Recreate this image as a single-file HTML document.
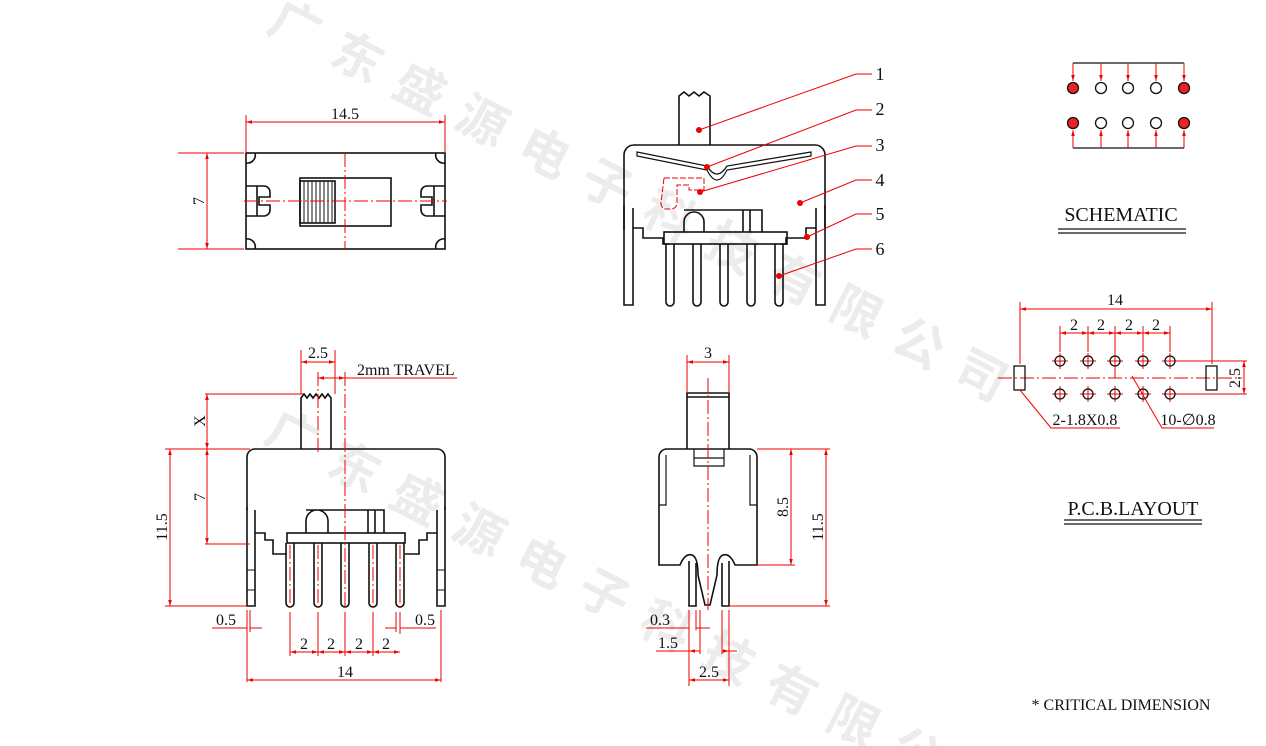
<!DOCTYPE html>
<html><head><meta charset="utf-8"><style>
html,body{margin:0;padding:0;background:#fff;width:1266px;height:746px;overflow:hidden}
svg{display:block;overflow:hidden}
text{font-family:"Liberation Serif",serif;font-size:16px;fill:#111}
.wm{font-family:"Liberation Sans","Noto Sans CJK SC",sans-serif;font-size:50px;fill:#ececec;font-weight:bold}
.k{stroke:#111;stroke-width:1.6;fill:none}
.r{stroke:#e00;stroke-width:1;fill:none}
.c{stroke:#e00;stroke-width:1;fill:none;stroke-dasharray:14 3 2 3}
</style></head><body>
<svg width="1266" height="746" viewBox="0 0 1266 746" xmlns="http://www.w3.org/2000/svg">
<defs>
<marker id="a" viewBox="0 0 10 10" refX="10" refY="5" markerWidth="8" markerHeight="6" orient="auto-start-reverse"><path d="M0,2 L10,5 L0,8 z" fill="#e00"/></marker>
</defs>
<!-- watermark -->
<text class="wm" transform="translate(265,30) rotate(27)" letter-spacing="20">广东盛源电子科技有限公司</text>
<text class="wm" transform="translate(262,440) rotate(27)" letter-spacing="20">广东盛源电子科技有限公司</text>

<!-- TOP LEFT VIEW -->
<rect class="k" x="246" y="153" width="199" height="96"/>
<path class="k" d="M246,163 a8,8 0 0 0 9,-10 M445,163 a8,8 0 0 1 -9,-10 M246,239 a8,8 0 0 1 9,10 M445,239 a8,8 0 0 0 -9,10"/>
<rect class="k" x="300" y="178" width="91" height="48"/>
<rect class="k" x="300" y="181" width="35" height="42"/>
<path class="k" style="stroke-width:1" d="M304,181v42M308,181v42M312,181v42M316,181v42M320,181v42M324,181v42M328,181v42M332,181v42"/>
<path class="k" d="M246,186h18a6,6 0 0 1 6,6v5h-11v8h11v5a6,6 0 0 1 -6,6h-18 M257,186v30"/>
<path class="k" d="M445,186h-18a6,6 0 0 0 -6,6v5h11v8h-11v5a6,6 0 0 0 6,6h18 M434,186v30"/>
<line class="c" x1="345" y1="153" x2="345" y2="249"/>
<line class="c" x1="244" y1="201" x2="447" y2="201"/>
<path class="r" d="M246,115v38M445,115v38M178,153h66M178,249h66"/>
<line class="r" x1="246" y1="122" x2="445" y2="122" marker-start="url(#a)" marker-end="url(#a)"/>
<line class="r" x1="207" y1="153" x2="207" y2="249" marker-start="url(#a)" marker-end="url(#a)"/>
<text x="345" y="119" text-anchor="middle">14.5</text>
<text transform="translate(204,201) rotate(-90)" text-anchor="middle">7</text>

<!-- TOP MIDDLE VIEW -->
<path class="k" d="M679,145V96l5,-4 5,4 5,-4 5,4 5,-4 6,4V145"/>
<path class="k" d="M624,230V155a10,10 0 0 1 10,-10H815a10,10 0 0 1 10,10V230"/>
<path class="k" d="M624,205V305h9V208M825,205V305h-9V208 M633,228h10v10h20v6h6 M816,228h-10v10h-20v6h-6"/>
<path class="k" d="M637,152L707,166 Q717,182 727,166 L811,152 L811,156 L727,170 Q717,190 707,170 L637,156z" style="stroke-width:1.2"/>
<rect class="k" x="664" y="232" width="123" height="12"/>
<path class="k" d="M684,232v-10a10,10 0 0 1 20,0v10 M684,210h78v22 M743,210v22M750,210v22"/>
<path class="k" d="M666,244v58a4,4 0 0 0 8,0v-58M693,244v58a4,4 0 0 0 8,0v-58M720,244v58a4,4 0 0 0 8,0v-58M747,244v58a4,4 0 0 0 8,0v-58M775,244v58a4,4 0 0 0 8,0v-58"/>
<path class="r" d="M664,178h40v12h-15v-5h-12v18a6,6 0 0 1 -6,6h-6a6,6 0 0 1 -4,-6z" style="stroke-dasharray:6 2"/>
<g fill="#e00">
<circle cx="699" cy="130" r="3"/><circle cx="707" cy="167" r="3"/><circle cx="700" cy="192" r="3"/><circle cx="800" cy="203" r="3"/><circle cx="807" cy="237" r="3"/><circle cx="779" cy="276" r="3"/>
</g>
<path class="r" d="M699,130L856,74H872M707,167L856,110H872M700,192L856,146H872M800,203L856,180H872M807,237L856,214H872M779,276L856,249H872"/>
<text x="880" y="80" text-anchor="middle" style="font-size:18px">1</text><text x="880" y="115" text-anchor="middle" style="font-size:18px">2</text><text x="880" y="151" text-anchor="middle" style="font-size:18px">3</text><text x="880" y="186" text-anchor="middle" style="font-size:18px">4</text><text x="880" y="220" text-anchor="middle" style="font-size:18px">5</text><text x="880" y="255" text-anchor="middle" style="font-size:18px">6</text>

<!-- BOTTOM LEFT VIEW -->
<path class="k" d="M301,449V398l3,-4 3,4 3,-4 3,4 3,-4 3,4 3,-4 3,4 3,-4 3,4 V449"/>
<path class="k" d="M247,510V457a8,8 0 0 1 8,-8H437a8,8 0 0 1 8,8V510"/>
<path class="k" d="M247,507V606h8V510M445,507V606h-8V510 M255,533h10v7h8v14h14M437,533h-10v7h-8v14h-14"/>
<path class="k" d="M255,570h-8M255,590h-8M445,570h-8M445,590h-8" style="stroke-width:1"/>
<rect class="k" x="287" y="533" width="118" height="10"/>
<path class="k" d="M306,533v-12a11,11 0 0 1 22,0v12 M306,510h78v23M368,510v23M375,510v23"/>
<path class="k" d="M286,543v60a4,4 0 0 0 8,0v-60M314,543v60a4,4 0 0 0 8,0v-60M341,543v60a4,4 0 0 0 8,0v-60M369,543v60a4,4 0 0 0 8,0v-60M396,543v60a4,4 0 0 0 8,0v-60"/>
<g class="c"><line x1="290" y1="545" x2="290" y2="608"/><line x1="318" y1="545" x2="318" y2="608"/><line x1="373" y1="545" x2="373" y2="608"/><line x1="400" y1="545" x2="400" y2="608"/><line x1="318" y1="372" x2="318" y2="455"/><line x1="345" y1="372" x2="345" y2="608"/></g>
<path class="r" d="M205,394h98M165,449h85M205,544h45M165,606h82 M301,350v44M335,350v44 M247,610v72M441,610v72M250,610v22 M290,612v44M318,612v44M345,612v44M373,612v44M400,612v22 M396,612v20 M345,378h112"/>
<line class="r" x1="301" y1="362" x2="335" y2="362" marker-start="url(#a)" marker-end="url(#a)"/>
<line class="r" x1="318" y1="378" x2="345" y2="378" marker-start="url(#a)" marker-end="url(#a)"/>
<line class="r" x1="207" y1="394" x2="207" y2="449" marker-start="url(#a)" marker-end="url(#a)"/>
<line class="r" x1="207" y1="449" x2="207" y2="544" marker-start="url(#a)" marker-end="url(#a)"/>
<line class="r" x1="170" y1="449" x2="170" y2="606" marker-start="url(#a)" marker-end="url(#a)"/>
<path class="r" d="M212,628h35M250,628h12M385,628h11M400,628h36"/>
<line class="r" x1="290" y1="652" x2="318" y2="652" marker-start="url(#a)" marker-end="url(#a)"/>
<line class="r" x1="318" y1="652" x2="345" y2="652" marker-start="url(#a)" marker-end="url(#a)"/>
<line class="r" x1="345" y1="652" x2="373" y2="652" marker-start="url(#a)" marker-end="url(#a)"/>
<line class="r" x1="373" y1="652" x2="400" y2="652" marker-start="url(#a)" marker-end="url(#a)"/>
<line class="r" x1="247" y1="680" x2="441" y2="680" marker-start="url(#a)" marker-end="url(#a)"/>
<text x="318" y="358" text-anchor="middle">2.5</text>
<text x="357" y="375">2mm TRAVEL</text>
<text transform="translate(205,421) rotate(-90)" text-anchor="middle">X</text>
<text transform="translate(205,497) rotate(-90)" text-anchor="middle">7</text>
<text transform="translate(167,527) rotate(-90)" text-anchor="middle">11.5</text>
<text x="226" y="625" text-anchor="middle">0.5</text>
<text x="425" y="625" text-anchor="middle">0.5</text>
<text x="304" y="649" text-anchor="middle">2</text><text x="331" y="649" text-anchor="middle">2</text><text x="359" y="649" text-anchor="middle">2</text><text x="386" y="649" text-anchor="middle">2</text>
<text x="345" y="677" text-anchor="middle">14</text>

<!-- BOTTOM MIDDLE VIEW -->
<path class="k" d="M687,449V393h42V449 M687,397h42"/>
<path class="k" d="M659,565V457a8,8 0 0 1 8,-8H749a8,8 0 0 1 8,8V565H735q-5,-12 -12,-10 -6,2 -6,20l-7,30h-5l-7,-30q0,-18 -6,-20 -7,-2 -12,10z"/>
<path class="k" d="M666,455V505h-7M750,455V505h7 M694,449v17h30v-17 M694,458h30" style="stroke-width:1.2"/>
<path class="k" d="M689,561V606h7V563M722,563V606h7V561"/>
<line class="c" x1="708" y1="378" x2="708" y2="610"/>
<path class="r" d="M687,355v38M729,355v38M757,449h73M757,565h38M729,606h101 M689,610v76M696,610v20M700,610v44M722,610v44M729,610v76 M646,628h43M696,628h14 M656,651h33M729,651h8"/>
<line class="r" x1="687" y1="362" x2="729" y2="362" marker-start="url(#a)" marker-end="url(#a)"/>
<line class="r" x1="791" y1="449" x2="791" y2="565" marker-start="url(#a)" marker-end="url(#a)"/>
<line class="r" x1="826" y1="449" x2="826" y2="606" marker-start="url(#a)" marker-end="url(#a)"/>
<line class="r" x1="689" y1="651" x2="700" y2="651" marker-start="url(#a)"/>
<line class="r" x1="722" y1="651" x2="729" y2="651" marker-end="url(#a)"/>
<line class="r" x1="689" y1="680" x2="729" y2="680" marker-start="url(#a)" marker-end="url(#a)"/>
<text x="708" y="358" text-anchor="middle">3</text>
<text transform="translate(788,507) rotate(-90)" text-anchor="middle">8.5</text>
<text transform="translate(823,527) rotate(-90)" text-anchor="middle">11.5</text>
<text x="660" y="625" text-anchor="middle">0.3</text>
<text x="668" y="648" text-anchor="middle">1.5</text>
<text x="709" y="677" text-anchor="middle">2.5</text>

<!-- SCHEMATIC -->
<path class="k" style="stroke-width:1.3" d="M1073,63H1184M1073,148H1184"/>
<g class="r">
<line x1="1073" y1="63" x2="1073" y2="81" marker-end="url(#a)"/><line x1="1101" y1="63" x2="1101" y2="81" marker-end="url(#a)"/><line x1="1128" y1="63" x2="1128" y2="81" marker-end="url(#a)"/><line x1="1156" y1="63" x2="1156" y2="81" marker-end="url(#a)"/><line x1="1184" y1="63" x2="1184" y2="81" marker-end="url(#a)"/>
<line x1="1073" y1="148" x2="1073" y2="130" marker-end="url(#a)"/><line x1="1101" y1="148" x2="1101" y2="130" marker-end="url(#a)"/><line x1="1128" y1="148" x2="1128" y2="130" marker-end="url(#a)"/><line x1="1156" y1="148" x2="1156" y2="130" marker-end="url(#a)"/><line x1="1184" y1="148" x2="1184" y2="130" marker-end="url(#a)"/>
</g>
<g stroke="#111" stroke-width="1.3">
<circle cx="1073" cy="88" r="5.5" fill="#e22"/><circle cx="1101" cy="88" r="5.5" fill="#fff"/><circle cx="1128" cy="88" r="5.5" fill="#fff"/><circle cx="1156" cy="88" r="5.5" fill="#fff"/><circle cx="1184" cy="88" r="5.5" fill="#e22"/>
<circle cx="1073" cy="123" r="5.5" fill="#e22"/><circle cx="1101" cy="123" r="5.5" fill="#fff"/><circle cx="1128" cy="123" r="5.5" fill="#fff"/><circle cx="1156" cy="123" r="5.5" fill="#fff"/><circle cx="1184" cy="123" r="5.5" fill="#e22"/>
</g>
<text x="1121" y="221" text-anchor="middle" style="font-size:20px">SCHEMATIC</text>
<path class="k" style="stroke-width:1.3" d="M1058,229H1186M1058,233H1186"/>

<!-- PCB LAYOUT -->
<line class="c" x1="998" y1="378" x2="1242" y2="378"/>
<path class="r" d="M1020,302v62M1212,302v62 M1060,326v26M1088,326v26M1115,326v26M1143,326v26M1170,326v26 M1175,361h72M1175,394h72 M1115,340v38"/>
<line class="r" x1="1020" y1="309" x2="1212" y2="309" marker-start="url(#a)" marker-end="url(#a)"/>
<line class="r" x1="1060" y1="333" x2="1088" y2="333" marker-start="url(#a)" marker-end="url(#a)"/>
<line class="r" x1="1088" y1="333" x2="1115" y2="333" marker-start="url(#a)" marker-end="url(#a)"/>
<line class="r" x1="1115" y1="333" x2="1143" y2="333" marker-start="url(#a)" marker-end="url(#a)"/>
<line class="r" x1="1143" y1="333" x2="1170" y2="333" marker-start="url(#a)" marker-end="url(#a)"/>
<line class="r" x1="1244" y1="361" x2="1244" y2="394" marker-start="url(#a)" marker-end="url(#a)"/>
<g class="r">
<path d="M1052,361h16M1080,361h16M1107,361h16M1135,361h16M1162,361h16M1052,394h16M1080,394h16M1107,394h16M1135,394h16M1162,394h16 M1060,353v16M1088,353v16M1115,353v16M1143,353v16M1170,353v16M1060,386v16M1088,386v16M1115,386v16M1143,386v16M1170,386v16"/>
</g>
<g class="k" style="stroke-width:1.3">
<circle cx="1060" cy="361" r="5"/><circle cx="1088" cy="361" r="5"/><circle cx="1115" cy="361" r="5"/><circle cx="1143" cy="361" r="5"/><circle cx="1170" cy="361" r="5"/>
<circle cx="1060" cy="394" r="5"/><circle cx="1088" cy="394" r="5"/><circle cx="1115" cy="394" r="5"/><circle cx="1143" cy="394" r="5"/><circle cx="1170" cy="394" r="5"/>
<rect x="1014" y="366" width="11" height="24"/><rect x="1206" y="366" width="11" height="24"/>
</g>
<path class="r" d="M1120,428H1051L1020,390 M1214,428H1162L1132,376"/>
<text x="1115" y="305" text-anchor="middle">14</text>
<text x="1074" y="330" text-anchor="middle">2</text><text x="1101" y="330" text-anchor="middle">2</text><text x="1129" y="330" text-anchor="middle">2</text><text x="1156" y="330" text-anchor="middle">2</text>
<text transform="translate(1240,378) rotate(-90)" text-anchor="middle">2.5</text>
<text x="1085" y="425" text-anchor="middle">2-1.8X0.8</text>
<text x="1188" y="425" text-anchor="middle">10-∅0.8</text>
<text x="1133" y="515" text-anchor="middle" style="font-size:20px">P.C.B.LAYOUT</text>
<path class="k" style="stroke-width:1.3" d="M1064,520H1202M1064,524H1202"/>

<text x="1121" y="710" text-anchor="middle" style="font-size:16px">* CRITICAL  DIMENSION</text>
</svg>
</body></html>
